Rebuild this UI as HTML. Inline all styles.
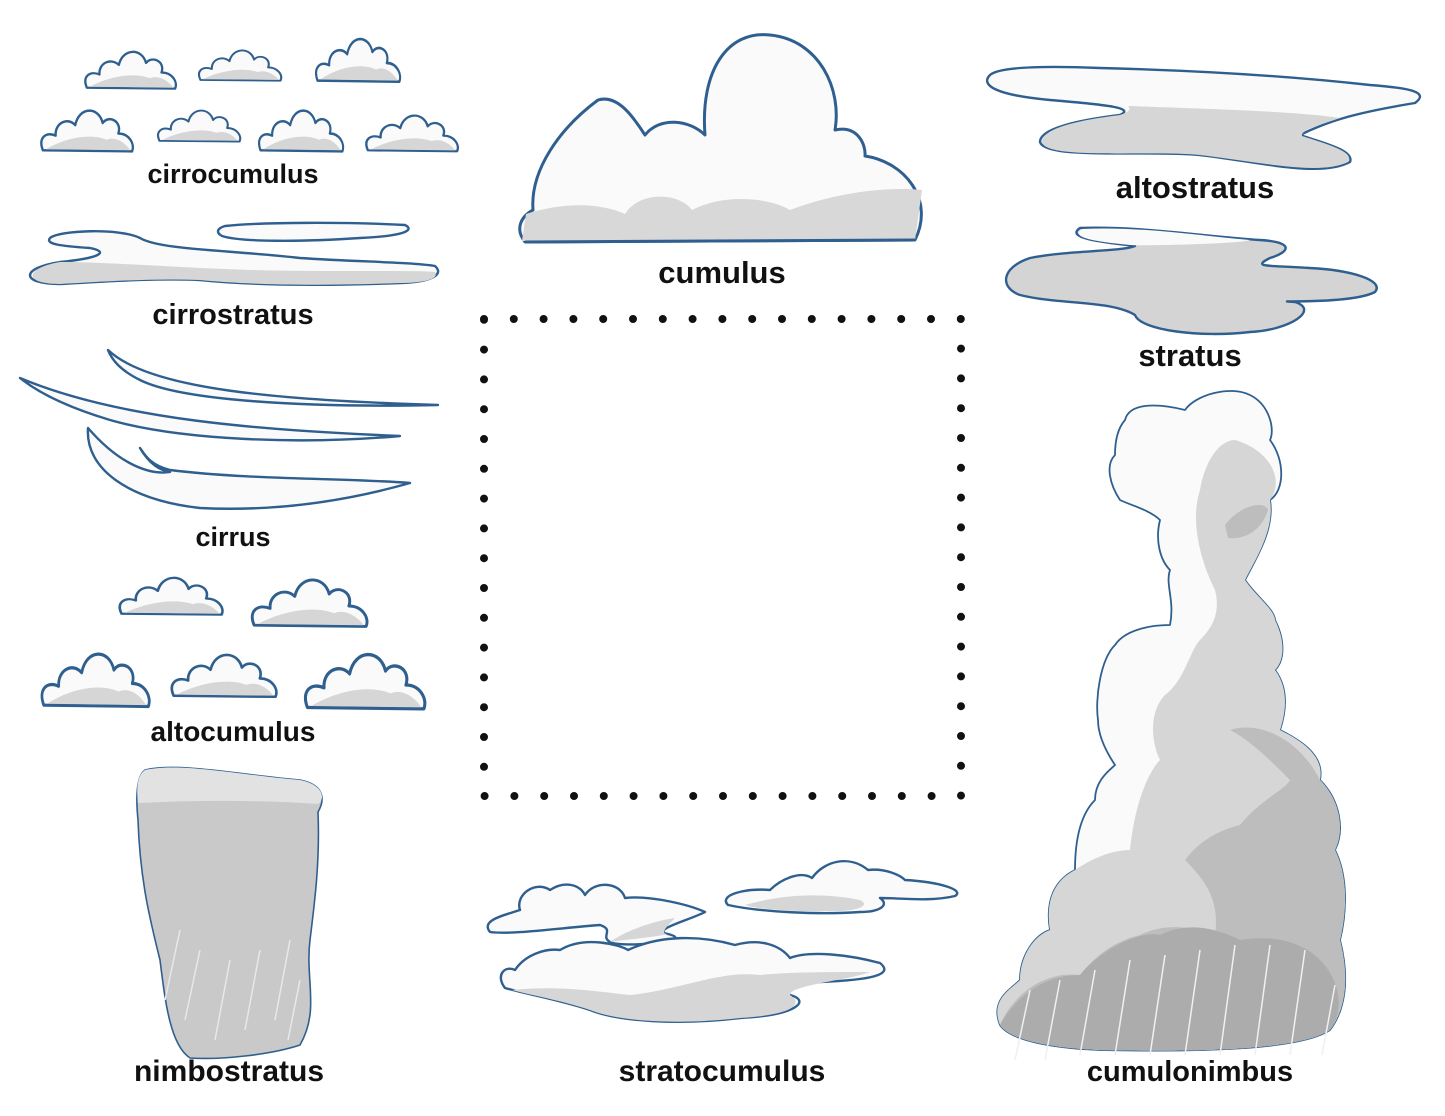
<!DOCTYPE html>
<html><head><meta charset="utf-8"><style>
html,body{margin:0;padding:0;background:#fff;}
svg{display:block;}
text{font-family:"Liberation Sans",sans-serif;font-weight:bold;font-size:27px;fill:#111;text-anchor:middle;}
</style></head><body>
<svg width="1445" height="1116" viewBox="0 0 1445 1116" xmlns="http://www.w3.org/2000/svg">
<defs>
<g id="sc">
<path d="M5,46 C0,34 8,28 18,32 C17,20 30,14 38,22 C42,4 62,4 66,20 C72,12 86,18 82,30 C93,30 99,40 96,47 Z" fill="#fafafa" stroke="#2f5f8f" stroke-width="2.4"/>
<path d="M8,45 C30,33 55,30 70,36 C80,32 90,40 94,46 Z" fill="#d6d6d6"/>
</g>
</defs>
<g stroke-linejoin="round">
<use href="#sc" transform="translate(82,44) scale(0.97,0.95)"/>
<use href="#sc" transform="translate(196,44) scale(0.88,0.78)"/>
<use href="#sc" transform="translate(313,30) scale(0.9,1.1)"/>
<use href="#sc" transform="translate(38,102) scale(0.98,1.05)"/>
<use href="#sc" transform="translate(155,104) scale(0.88,0.8)"/>
<use href="#sc" transform="translate(256,102) scale(0.9,1.05)"/>
<use href="#sc" transform="translate(363,108) scale(0.98,0.92)"/>
<use href="#sc" transform="translate(116,570) scale(1.1,0.95)"/>
<use href="#sc" transform="translate(248,570) scale(1.23,1.2)"/>
<use href="#sc" transform="translate(38,643) scale(1.15,1.35)"/>
<use href="#sc" transform="translate(168,646) scale(1.12,1.08)"/>
<use href="#sc" transform="translate(301,643) scale(1.28,1.4)"/>

<path d="M525,242 C514,228 522,216 533,210 C530,170 560,128 598,100 C618,94 634,118 645,135 C660,116 690,120 705,135 C700,70 728,30 770,35 C820,40 842,90 835,130 C858,125 866,145 865,156 C905,162 935,200 915,240 Z" fill="#fafafa" stroke="#2f5f8f" stroke-width="3"/>
<path d="M522,241 L526,214 C570,200 605,205 625,214 C640,190 680,193 692,210 C725,193 770,198 790,210 C830,195 880,186 922,190 L915,240 Z" fill="#d8d8d8"/>
<path d="M525,242 L915,240" stroke="#2f5f8f" stroke-width="3" fill="none"/>

<path d="M990,75 C980,85 995,95 1050,100 C1110,105 1135,108 1120,115 C1080,120 1040,128 1040,142 C1045,160 1150,150 1200,155 C1260,162 1320,178 1350,162 C1355,150 1320,142 1300,135 C1330,120 1360,112 1415,103 C1430,92 1410,88 1370,85 C1280,75 1180,70 1100,68 C1050,66 1000,66 990,75 Z" fill="#fafafa" stroke="#2f5f8f" stroke-width="2.4"/>
<path d="M1128,106 C1240,110 1300,112 1340,118 C1320,125 1300,130 1302,136 C1330,145 1355,152 1348,162 C1320,176 1260,162 1200,155 C1150,150 1045,160 1042,142 C1042,128 1080,120 1120,115 C1132,111 1130,108 1128,106 Z" fill="#d6d6d6"/>
<path d="M1080,228 C1065,238 1100,242 1135,246 C1120,252 1070,250 1030,258 C1000,268 1000,288 1020,295 C1060,305 1110,300 1135,315 C1140,330 1200,338 1250,332 C1290,330 1320,310 1295,302 C1260,300 1350,305 1375,292 C1385,280 1350,270 1310,268 C1270,265 1250,268 1270,258 C1290,252 1295,242 1260,240 C1200,236 1140,226 1080,228 Z" fill="#d4d4d4" stroke="#2f5f8f" stroke-width="2.4"/>
<path d="M1082,229 C1140,226 1200,236 1250,240 C1240,244 1140,246 1130,245 C1100,242 1068,238 1082,229Z" fill="#fafafa"/>

<path d="M50,238 C60,230 120,228 140,238 C160,250 230,250 300,258 C360,262 410,262 435,266 C445,275 430,282 400,283 C320,286 250,285 200,280 C150,278 100,282 60,284 C20,284 20,268 60,262 C100,258 110,252 90,248 C60,246 45,244 50,238 Z" fill="#fafafa" stroke="#2f5f8f" stroke-width="2.4"/>
<path d="M60,262 C110,262 180,268 250,270 C330,272 420,270 435,272 C440,280 420,283 400,283 C320,286 250,285 200,280 C150,278 100,282 60,284 C22,284 25,268 60,262Z" fill="#d6d6d6"/>
<path d="M225,226 C260,222 350,222 405,225 C415,230 405,236 360,238 C300,242 240,242 222,236 C215,232 218,228 225,226 Z" fill="#fafafa" stroke="#2f5f8f" stroke-width="2.4"/>

<g fill="#fafafa" stroke="#2f5f8f" stroke-width="2.4">
<path d="M108,350 C150,390 280,400 438,405 C300,408 180,400 140,380 C120,370 112,360 108,350 Z"/>
<path d="M20,378 C120,420 260,430 400,436 C300,445 180,440 110,420 C60,405 35,390 20,378 Z"/>
<path d="M88,428 C85,470 130,500 200,508 C280,512 350,500 410,483 C350,478 250,480 170,470 C150,465 145,455 140,448 C150,465 160,470 170,472 C150,475 120,465 88,428 Z"/>
</g>

<path d="M145,770 C180,762 240,775 300,780 C325,785 325,800 318,812 C320,860 315,900 310,940 C305,980 320,1010 300,1045 C270,1055 220,1060 190,1058 C170,1045 165,1000 160,960 C150,920 140,880 138,820 C135,790 138,775 145,770 Z" fill="#c9c9c9" stroke="#2f5f8f" stroke-width="1.6"/>
<path d="M145,770 C180,762 240,775 300,780 C325,785 325,800 318,804 C260,800 200,800 138,803 C136,785 138,775 145,770Z" fill="#e2e2e2"/>
<g stroke="#e8e8e8" stroke-width="1.5">
<line x1="180" y1="930" x2="165" y2="1000"/><line x1="200" y1="950" x2="185" y2="1020"/><line x1="230" y1="960" x2="215" y2="1040"/><line x1="260" y1="950" x2="245" y2="1030"/><line x1="290" y1="940" x2="275" y2="1020"/><line x1="300" y1="980" x2="288" y2="1040"/>
</g>

<g stroke="#2f5f8f" stroke-width="2.4">
<path d="M490,932 C480,920 505,915 520,910 C515,895 535,880 550,890 C565,880 580,885 585,895 C595,880 620,882 625,898 C650,895 690,905 705,912 C690,920 650,930 668,934 C700,942 620,948 610,942 C600,936 615,930 600,925 C560,928 510,935 490,932 Z" fill="#fafafa"/>
<path d="M505,988 C495,975 505,965 515,970 C525,955 545,948 560,950 C585,935 620,945 628,950 C660,935 700,935 735,945 C760,938 780,945 790,958 C810,950 850,955 880,963 C895,975 870,980 820,982 C780,985 770,990 790,995 C810,1000 800,1015 740,1018 C680,1025 620,1022 590,1010 C560,1000 530,995 505,988 Z" fill="#fafafa"/>
<path d="M728,905 C718,895 745,888 770,890 C780,880 800,870 812,878 C825,860 850,855 868,870 C885,868 900,875 905,880 C940,882 965,890 955,896 C930,902 900,898 880,898 C890,905 880,912 860,912 C820,915 760,912 728,905 Z" fill="#fafafa"/>
</g>
<path d="M610,942 C630,928 660,920 675,918 C665,928 660,934 668,934 C650,938 620,940 610,942Z" fill="#d6d6d6"/>
<path d="M512,990 C560,985 600,992 630,995 C680,990 720,970 760,975 C790,972 830,972 870,972 C850,980 790,985 790,995 C805,1005 790,1015 740,1018 C680,1025 620,1022 590,1010 C560,1000 530,995 512,990Z" fill="#d6d6d6"/>
<path d="M745,905 C780,895 820,892 860,900 C870,905 860,910 840,911 C800,912 760,910 745,905Z" fill="#d6d6d6"/>

<path d="M1125,420 C1130,400 1165,405 1185,410 C1195,395 1230,385 1250,395 C1270,405 1275,430 1270,440 C1285,460 1285,490 1270,500 C1275,530 1255,560 1245,580 C1255,595 1275,610 1275,620 C1285,640 1285,660 1275,670 C1290,690 1285,715 1280,730 C1300,740 1325,755 1320,780 C1340,800 1345,830 1335,850 C1350,880 1345,920 1340,940 C1350,980 1345,1010 1330,1030 C1300,1050 1200,1052 1100,1050 C1050,1048 1010,1040 1000,1025 C990,1000 1010,990 1020,980 C1020,955 1035,935 1050,930 C1045,900 1055,880 1075,870 C1075,840 1080,815 1095,800 C1095,780 1110,770 1115,765 C1105,750 1098,735 1098,720 C1095,700 1100,660 1115,645 C1125,630 1150,625 1170,625 C1175,600 1165,585 1170,570 C1160,560 1155,540 1160,520 C1150,510 1130,505 1120,500 C1110,485 1105,465 1115,455 C1115,440 1118,428 1125,420 Z" fill="#fafafa" stroke="#2f5f8f" stroke-width="1.8"/>
<path d="M1235,440 C1270,450 1285,480 1270,500 C1275,530 1255,560 1245,580 C1255,595 1275,610 1275,620 C1285,640 1285,660 1275,670 C1290,690 1285,715 1280,730 C1300,740 1325,755 1320,780 C1340,800 1345,830 1335,850 C1350,880 1345,920 1340,940 C1350,980 1345,1010 1330,1030 C1300,1050 1200,1052 1100,1050 C1050,1048 1010,1040 1000,1025 C990,1000 1010,990 1020,980 C1020,955 1035,935 1050,930 C1045,900 1055,880 1075,870 C1090,860 1110,850 1130,850 C1135,800 1150,770 1160,760 C1150,740 1150,710 1165,695 C1185,680 1190,650 1200,640 C1215,625 1220,610 1215,590 C1200,560 1190,520 1200,490 C1205,460 1220,440 1235,440 Z" fill="#d6d6d6"/>
<path d="M1230,730 C1260,720 1300,740 1320,780 C1340,800 1345,830 1335,850 C1350,880 1345,920 1340,940 C1350,980 1345,1010 1330,1030 C1300,1050 1200,1052 1100,1050 C1050,1048 1010,1040 1000,1025 C1010,1000 1040,970 1080,975 C1100,950 1120,940 1140,935 C1170,920 1200,930 1215,935 C1220,900 1205,880 1185,860 C1200,840 1220,830 1240,825 C1260,800 1285,790 1290,780 C1270,760 1250,740 1230,730Z" fill="#bdbdbd"/>
<path d="M1225,525 C1240,505 1265,500 1268,510 C1262,530 1245,540 1228,538Z" fill="#bdbdbd"/>
<path d="M1000,1025 C1020,990 1050,975 1080,975 C1100,950 1140,930 1160,935 C1190,920 1220,930 1240,940 C1270,935 1300,940 1320,960 C1340,980 1345,1010 1330,1030 C1300,1050 1200,1052 1100,1050 C1050,1048 1010,1040 1000,1025Z" fill="#acacac"/>
<g stroke="#f0f0f0" stroke-width="1.5">
<line x1="1030" y1="990" x2="1015" y2="1060"/><line x1="1060" y1="980" x2="1045" y2="1060"/><line x1="1095" y1="970" x2="1080" y2="1055"/><line x1="1130" y1="960" x2="1115" y2="1055"/><line x1="1165" y1="955" x2="1150" y2="1055"/><line x1="1200" y1="950" x2="1185" y2="1055"/><line x1="1235" y1="945" x2="1220" y2="1055"/><line x1="1270" y1="945" x2="1255" y2="1055"/><line x1="1305" y1="950" x2="1290" y2="1055"/><line x1="1335" y1="985" x2="1322" y2="1055"/>
</g>
</g>

<rect x="484" y="319" width="477" height="477" fill="none" stroke="#111" stroke-width="8" stroke-linecap="round" stroke-dasharray="0 29.8"/>

<text x="233" y="183">cirrocumulus</text>
<text x="722" y="283" style="font-size:31px">cumulus</text>
<text x="1195" y="198" style="font-size:31px">altostratus</text>
<text x="233" y="324" style="font-size:29px">cirrostratus</text>
<text x="1190" y="366" style="font-size:31px">stratus</text>
<text x="233" y="546">cirrus</text>
<text x="233" y="741" style="font-size:28px">altocumulus</text>
<text x="229" y="1081" style="font-size:30px">nimbostratus</text>
<text x="722" y="1081" style="font-size:30px">stratocumulus</text>
<text x="1190" y="1081" style="font-size:29px">cumulonimbus</text>
</svg>
</body></html>
